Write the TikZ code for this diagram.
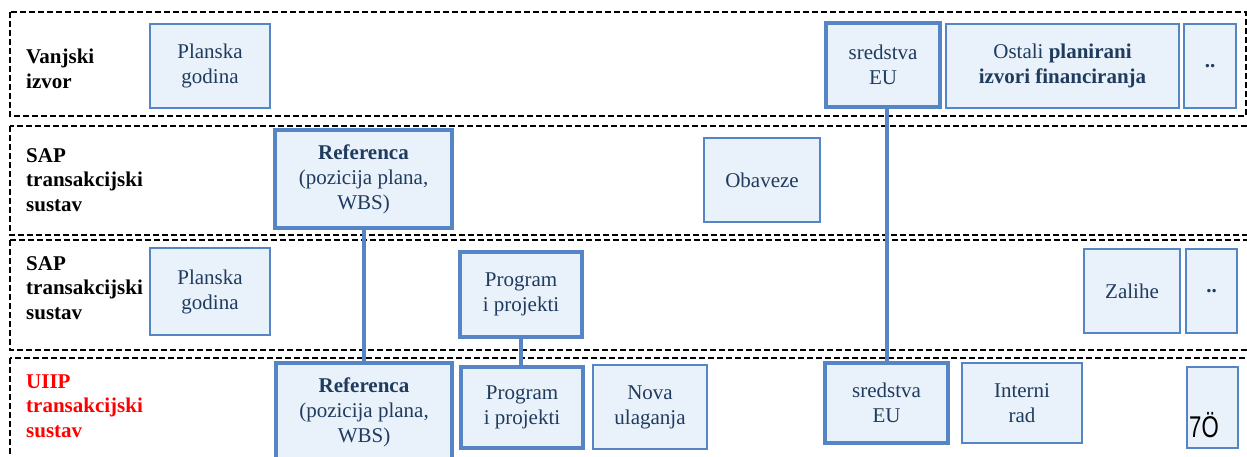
\documentclass[tikz,border=0pt]{standalone}
\usepackage{fontspec}
\setmainfont{Liberation Serif}
\newfontfamily\sansf{Liberation Sans}
\definecolor{bfill}{HTML}{E9F1FA}
\definecolor{bdraw}{HTML}{5585C5}
\definecolor{btext}{HTML}{1F3B5E}
\begin{document}
\begin{tikzpicture}[x=1pt,y=-1pt,
  band/.style={draw=black, line width=1.4pt, dash pattern=on 6pt off 3pt},
  box/.style={draw=bdraw, fill=bfill, line width=1.5pt, text=btext, font=\fontsize{21}{25}\selectfont, align=center, inner sep=0pt},
  thickbox/.style={box, line width=4pt},
  lbl/.style={anchor=west, align=left, font=\bfseries\fontsize{21}{24.5}\selectfont, inner sep=0pt},
  conn/.style={draw=bdraw, line width=4pt}]
\useasboundingbox (0,0) rectangle (1247,457);
% bands
\draw[band] (10,12) rectangle (1246,116);
\draw[band] (10,126) rectangle (1262,235);
\draw[band] (10,240) rectangle (1262,350);
\draw[band] (10,358) rectangle (1262,475);
% labels
\node[lbl] (l1) at (26,69) {Vanjski\\izvor};
\node[lbl] (l2) at (26,180) {SAP\\transakcijski\\sustav};
\node[lbl] (l3) at (26,288) {SAP\\transakcijski\\sustav};
\node[lbl, text=red] (l4) at (26,406) {UIIP\\transakcijski\\sustav};
% band 1
\node[box, minimum width=120pt, minimum height=84pt] (pg1) at (210,66) {Planska\\godina};
\node[thickbox, minimum width=114pt, minimum height=84pt] (eu1) at (883,65) {sredstva\\EU};
\node[box, minimum width=233pt, minimum height=84pt] (ost1) at (1062.5,66) {Ostali \textbf{planirani}\\\textbf{izvori financiranja}};
\node[box, minimum width=52pt, minimum height=84pt] (dd1) at (1210,66) {\textbf{..}};
% band 2
\node[thickbox, minimum width=177pt, minimum height=98pt] (ref2) at (363.5,179) {\textbf{Referenca}\\(pozicija plana,\\WBS)};
\node[box, minimum width=116pt, minimum height=84pt] (obv) at (762,180) {Obaveze};
% band 3
\node[box, minimum width=120pt, minimum height=87pt] (pg3) at (210,291.5) {Planska\\godina};
\node[thickbox, minimum width=122pt, minimum height=85pt] (prog3) at (521,294.5) {Program\\i projekti};
\node[box, minimum width=96pt, minimum height=84pt] (zal) at (1132,291) {Zalihe};
\node[box, minimum width=51pt, minimum height=84pt] (dd3) at (1211.5,291) {\textbf{..}};
% band 4
\node[thickbox, minimum width=176pt, minimum height=98pt] (ref4) at (364,412) {\textbf{Referenca}\\(pozicija plana,\\WBS)};
\node[thickbox, minimum width=122pt, minimum height=81pt] (prog4) at (522,407.5) {Program\\i projekti};
\node[box, minimum width=114pt, minimum height=84pt] (nova) at (650,407) {Nova\\ulaganja};
\node[thickbox, minimum width=123pt, minimum height=80pt] (eu4) at (886.5,403) {sredstva\\EU};
\node[box, minimum width=120pt, minimum height=80pt] (int) at (1022,403) {Interni\\rad};
\node[box, minimum width=51pt, minimum height=81pt] (box7) at (1212.5,407.5) {};
\node[anchor=base west, inner sep=0pt, font=\sansf\fontsize{30}{30}\selectfont] (t7) at (1189,437) {\scalebox{0.74}[1]{7Ö}};
% connectors
\draw[conn] (ref2.south) -- (ref4.north -| ref2.south);
\draw[conn] (prog3.south) -- (prog4.north -| prog3.south);
\draw[conn] (eu4.north) -- (eu1.south -| eu4.north);
\end{tikzpicture}
\end{document}
